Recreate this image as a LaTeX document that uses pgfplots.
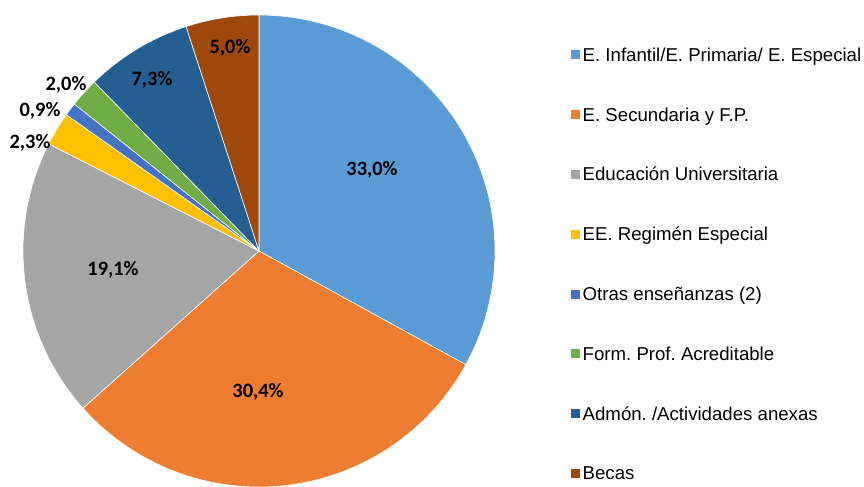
\documentclass[border=0pt]{standalone}
\usepackage{fontspec}
\setmainfont{Liberation Sans}
\newfontfamily\carlito{Carlito}
\usepackage{pgfplots}
\pgfplotsset{compat=1.18}
\definecolor{c1}{HTML}{5B9BD5}
\definecolor{c2}{HTML}{ED7D31}
\definecolor{c3}{HTML}{A5A5A5}
\definecolor{c4}{HTML}{FFC000}
\definecolor{c5}{HTML}{4472C4}
\definecolor{c6}{HTML}{70AD47}
\definecolor{c7}{HTML}{255E91}
\definecolor{c8}{HTML}{9E480E}
% slice: cumulative start %, cumulative end %, colour
\newcommand{\slice}[3]{%
  \addplot[fill=#3, draw=white, line width=0.6pt, domain=#1:#2, samples=90, variable=\t]
    ({259+236*cos(90-3.6*\t)},{236+236*sin(90-3.6*\t)}) -- (axis cs:259,236) -- cycle;
}
\newcommand{\lab}[3]{\node[font=\carlito\bfseries\fontsize{20.5}{24}\selectfont] at (axis cs:#1,#2) {#3};}
\begin{document}
\frenchspacing
\begin{tikzpicture}
\useasboundingbox (0,0) rectangle (864bp,487bp);
\begin{axis}[
  at={(0,0)}, anchor=south west,
  x=1bp, y=1bp, xmin=0, xmax=864, ymin=0, ymax=487,
  scale only axis, hide axis, clip=true,
  legend cell align=left,
  legend style={at={(axis cs:571,439)}, anchor=north west, draw=none, fill=none,
    inner sep=0pt, row sep=46.3bp, column sep=3bp,
    font=\fontsize{18.7}{21}\selectfont,
    nodes={text height=13bp, text depth=0.5bp, inner sep=0pt}},
  legend image code/.code={\fill[#1,draw=none] (0bp,-4.5bp) rectangle (8.5bp,4.5bp);},
]
% values (%): 33.0, 30.4, 19.1, 2.3, 0.9, 2.0, 7.3, 5.0
\slice{0}{33.0}{c1}
\slice{33.0}{63.4}{c2}
\slice{63.4}{82.5}{c3}
\slice{82.5}{84.8}{c4}
\slice{84.8}{85.7}{c5}
\slice{85.7}{87.7}{c6}
\slice{87.7}{95.0}{c7}
\slice{95.0}{100.0}{c8}
\legend{E. Infantil/E. Primaria/ E. Especial, E. Secundaria y F.P., Educación Universitaria, EE. Regimén Especial, Otras enseñanzas (2), Form. Prof. Acreditable, Admón. /Actividades anexas, Becas}
\lab{372}{317}{33,0\%}
\lab{258}{95}{30,4\%}
\lab{113}{217}{19,1\%}
\lab{30}{344}{2,3\%}
\lab{40}{376}{0,9\%}
\lab{66}{402}{2,0\%}
\lab{152}{407}{7,3\%}
\lab{230}{439}{5,0\%}
\end{axis}
\end{tikzpicture}
\end{document}
